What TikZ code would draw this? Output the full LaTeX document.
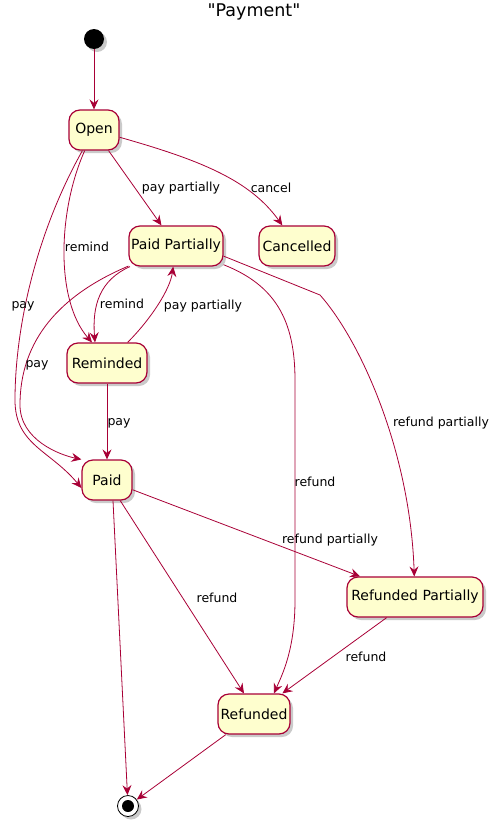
\documentclass[tikz,border=0pt]{standalone}
\usepackage{fontspec}
\setmainfont{DejaVu Sans}
\usetikzlibrary{arrows.meta,shadows}
\definecolor{umlred}{HTML}{A80036}
\definecolor{umlfill}{HTML}{FEFECE}
% straight double quote glyph, past the TeX ligature mapping
\newcommand{\dquote}{\XeTeXglyph\XeTeXglyphindex "quotedbl"\relax}
\tikzset{
    umlshadow/.style={
        drop shadow={shadow xshift=3pt, shadow yshift=-3pt, opacity=0.35, fill=black!60}
    },
    statebox/.style={
        draw=umlred,
        fill=umlfill,
        line width=1.2pt,
        rounded corners=11pt,
        minimum height=40pt,
        inner xsep=0pt,
        font=\fontsize{14}{16}\selectfont,
        umlshadow,
    },
    trans/.style={
        draw=umlred,
        line width=0.8pt,
        -{Stealth[length=10pt, width=9pt, inset=3.5pt]},
    },
    lbl/.style={
        font=\fontsize{12.5}{15}\selectfont,
        inner sep=0pt,
    },
}

\begin{document}
\begin{tikzpicture}[x=1pt, y=-1pt]
    \useasboundingbox (0, 0) rectangle (497, 825);
    % Title
    \node[font=\fontsize{17.5}{20}\selectfont] (title) at (254, 12) {\dquote Payment\dquote};

    % Initial and final pseudo states
    \node[circle, fill=black, minimum size=20pt, inner sep=0pt, umlshadow] (start) at (94, 39) {};
    \node[circle, draw=black, fill=white, line width=0.8pt, minimum size=21pt, inner sep=0pt, umlshadow] (stop) at (128, 806) {};
    \node[circle, fill=black, minimum size=12pt, inner sep=0pt] (stopdot) at (stop) {};

    % States
    \node[statebox, minimum width=50pt] (open) at (94, 130) {Open};
    \node[statebox, minimum width=94pt] (partial) at (176, 246) {Paid Partially};
    \node[statebox, minimum width=76pt] (cancelled) at (297, 246) {Cancelled};
    \node[statebox, minimum width=80pt] (reminded) at (107, 363) {Reminded};
    \node[statebox, minimum width=50pt] (paid) at (107, 480) {Paid};
    \node[statebox, minimum width=136pt] (refpartial) at (415, 597) {Refunded Partially};
    \node[statebox, minimum width=72pt] (refunded) at (254, 714) {Refunded};

    % Transitions out of Open
    \draw[trans] (start) -- (open);
    \draw[trans] (open) -- (partial);
    \draw[trans] (open) .. controls (200, 160) and (250, 180) .. (cancelled);
    \draw[trans] (open) .. controls (58, 210) and (55, 300) .. ([xshift=-15pt]reminded.north);
    \draw[trans] (open) .. controls (35, 235) and (15, 330) .. (15, 400)
      .. controls (15, 445) and (50, 450) .. ([yshift=-8pt]paid.west);

    % Transitions out of Paid Partially
    \draw[trans] (partial) .. controls (100, 280) and (92, 305) .. ([xshift=-12pt]reminded.north);
    \draw[trans] (partial) .. controls (60, 295) and (20, 340) .. (20, 405)
      .. controls (20, 440) and (60, 455) .. (paid.north west);
    \draw[trans] (partial) .. controls (275, 285) and (295, 320) .. (295, 380) -- (295, 600)
      .. controls (295, 650) and (282, 675) .. ([xshift=20pt]refunded.north);
    \draw[trans] (partial.-12) -- (320, 295) .. controls (360, 340) and (410, 450) .. (refpartial);

    % Transitions out of Reminded
    \draw[trans] (reminded) .. controls (150, 320) and (170, 290) .. (partial);
    \draw[trans] (reminded) -- (paid);

    % Transitions out of Paid
    \draw[trans] (paid) -- ([xshift=-55pt]refpartial.north);
    \draw[trans] (paid) -- ([xshift=-10pt]refunded.north);
    \draw[trans] ([xshift=6pt]paid.south) -- (stop);

    % Refund transitions
    \draw[trans] (refpartial) -- (refunded);
    \draw[trans] (refunded) -- (stop);

    % Labels
    \node[lbl] (l1) at (181, 188) {pay partially};
    \node[lbl] (l2) at (271, 188) {cancel};
    \node[lbl] (l3) at (87, 247) {remind};
    \node[lbl] (l4) at (23, 306) {pay};
    \node[lbl] (l5) at (122, 304) {remind};
    \node[lbl] (l6) at (203, 306) {pay partially};
    \node[lbl] (l7) at (37, 365) {pay};
    \node[lbl] (l8) at (119, 423) {pay};
    \node[lbl] (l9) at (315, 482) {refund};
    \node[lbl] (l10) at (441, 423) {refund partially};
    \node[lbl] (l11) at (330, 540) {refund partially};
    \node[lbl] (l12) at (217, 598) {refund};
    \node[lbl] (l13) at (366, 657) {refund};
\end{tikzpicture}
\end{document}
